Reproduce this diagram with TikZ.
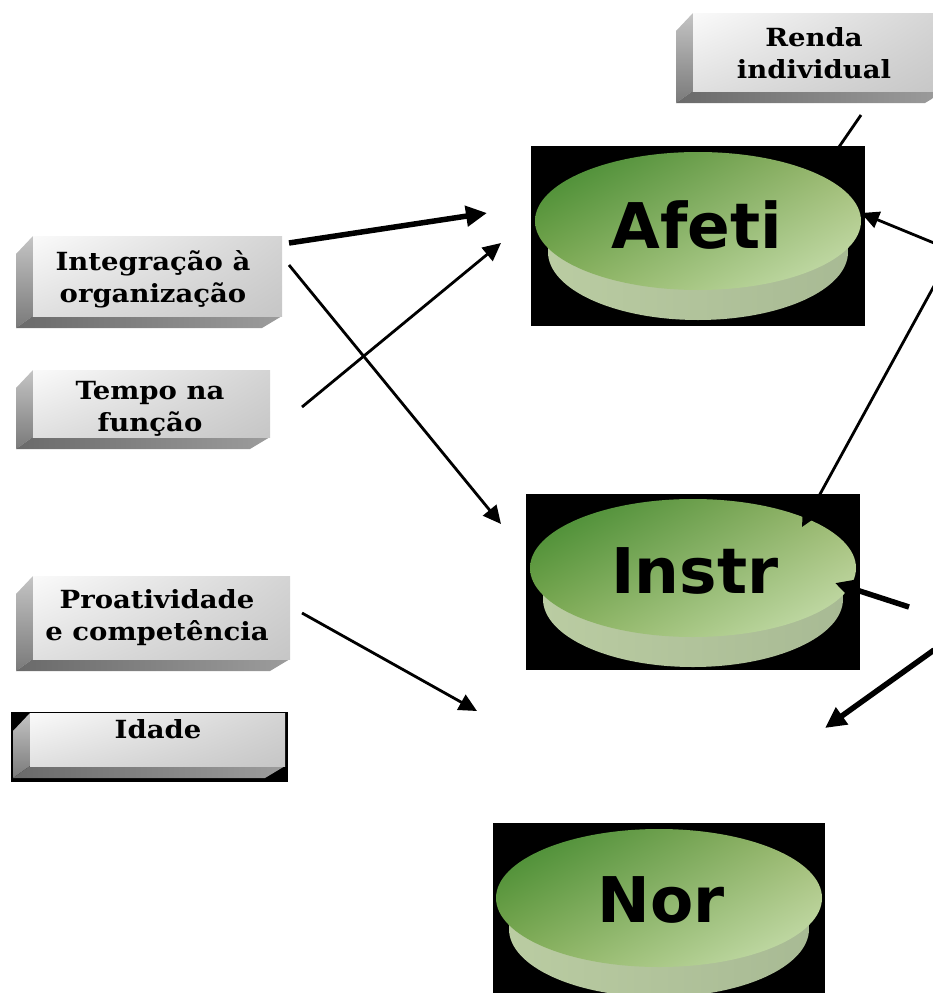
\documentclass[tikz,border=0pt]{standalone}
\usepackage{fontspec}
\usetikzlibrary{arrows.meta,shadings}
\newfontfamily\boxfont[FakeStretch=1.1]{DejaVu Serif}
\newfontfamily\discfont{DejaVu Sans}
\definecolor{faceA}{HTML}{FAFAFA}
\definecolor{faceB}{HTML}{D4D4D4}
\definecolor{faceC}{HTML}{E0E0E0}
\definecolor{faceD}{HTML}{C6C6C6}
\definecolor{sideA}{HTML}{C4C4C4}
\definecolor{sideB}{HTML}{7A7A7A}
\definecolor{botA}{HTML}{6A6A6A}
\definecolor{botB}{HTML}{9C9C9C}
\definecolor{grA}{HTML}{3A852A}
\definecolor{grB}{HTML}{9CB86E}
\definecolor{grC}{HTML}{86AE58}
\definecolor{grD}{HTML}{CFE4B8}
\definecolor{cylA}{HTML}{BACCA2}
\definecolor{cylB}{HTML}{8A9882}
\definecolor{cylC}{HTML}{A8BA94}
\newcommand\mybevel[4]{%
  \shade[top color=sideA,bottom color=sideB] (#1,#2) -- (#1-17,#2+18) -- (#1-17,#4+12) -- (#1,#4) -- cycle;
  \shade[left color=botA,right color=botB] (#1,#4) -- (#3,#4) -- (#3-20,#4+12) -- (#1-17,#4+12) -- cycle;
  \shade[upper left=faceA,upper right=faceB,lower left=faceC,lower right=faceD] (#1,#2) rectangle (#3,#4);
}
\newcommand\mydisc[6]{% rect x1,y1,x2,y2, centre cx,cy
  \fill[black] (#1,#2) rectangle (#3,#4);
  \shade[left color=cylA,middle color=cylB,right color=cylC] (#5,#6+31) ellipse [x radius=150, y radius=68];
  \shade[upper left=grA,upper right=grB,lower left=grC,lower right=grD] (#5,#6) ellipse [x radius=163, y radius=69];
}
\tikzset{
  boxtext/.style={align=center,inner sep=0pt,font={\boxfont\bfseries\fontsize{25}{32}\selectfont}},
  disctext/.style={anchor=base,inner sep=0pt,font={\discfont\bfseries\fontsize{63}{63}\selectfont}},
  thin/.style={line width=2.8pt,-{Triangle[length=18pt,width=17pt]}},
  thick/.style={line width=5.5pt,-{Triangle[length=21pt,width=20pt]}},
  plain/.style={line width=2.8pt}
}
\begin{document}
\begin{tikzpicture}[x=1pt,y=-1pt]
\path[use as bounding box] (0,0) rectangle (933,993);
% line from Renda, goes behind Afeti
\coordinate (rendaout) at (861,115);
\coordinate (rendain) at (830,160);
\draw[plain] (rendaout) -- (rendain);
% boxes
\mybevel{693}{13}{945}{91}
\node[boxtext] (renda) at (814,53) {Renda\\individual};
\mybevel{33}{236}{282}{316}
\node[boxtext] (integ) at (153,279) {Integração à\\organização};
\mybevel{33}{370}{270}{437}
\node[boxtext] (tempo) at (150,409) {Tempo na\\função};
\mybevel{33}{576}{290}{659}
\node[boxtext] (proat) at (157,618) {Proatividade\\e competência};
\fill[black] (11,712) rectangle (288,782);
\mybevel{30}{713}{285}{766}
\node[boxtext] (idade) at (158,729) {Idade};
% discs
\mydisc{531}{146}{865}{326}{698}{221}
\node[disctext] (afeti) at (697,248) {Afeti};
\mydisc{526}{494}{860}{670}{693}{568}
\node[disctext] (instr) at (695,593) {Instr};
\mydisc{493}{823}{825}{1000}{659}{898}
\node[disctext] (nor) at (661,922) {Nor};
% connector end points
\coordinate (i1) at (289,243);
\coordinate (i1t) at (487,213);
\coordinate (i2) at (289,265);
\coordinate (i2t) at (501,524);
\coordinate (t1) at (302,407);
\coordinate (t1t) at (501,243);
\coordinate (p1) at (302,613);
\coordinate (p1t) at (477,711);
\coordinate (r1) at (934,243);
\coordinate (r1t) at (861,213);
\coordinate (r2) at (934,286);
\coordinate (r2t) at (802,527);
\coordinate (r3) at (909,607);
\coordinate (r3t) at (835,583);
\coordinate (r4) at (934,650);
\coordinate (r4t) at (825,728);
\draw[thick] (i1) -- (i1t);
\draw[thin] (i2) -- (i2t);
\draw[thin] (t1) -- (t1t);
\draw[thin] (p1) -- (p1t);
\draw[thin] (r1) -- (r1t);
\draw[thin] (r2) -- (r2t);
\draw[thick] (r3) -- (r3t);
\draw[thick] (r4) -- (r4t);
\end{tikzpicture}
\end{document}
